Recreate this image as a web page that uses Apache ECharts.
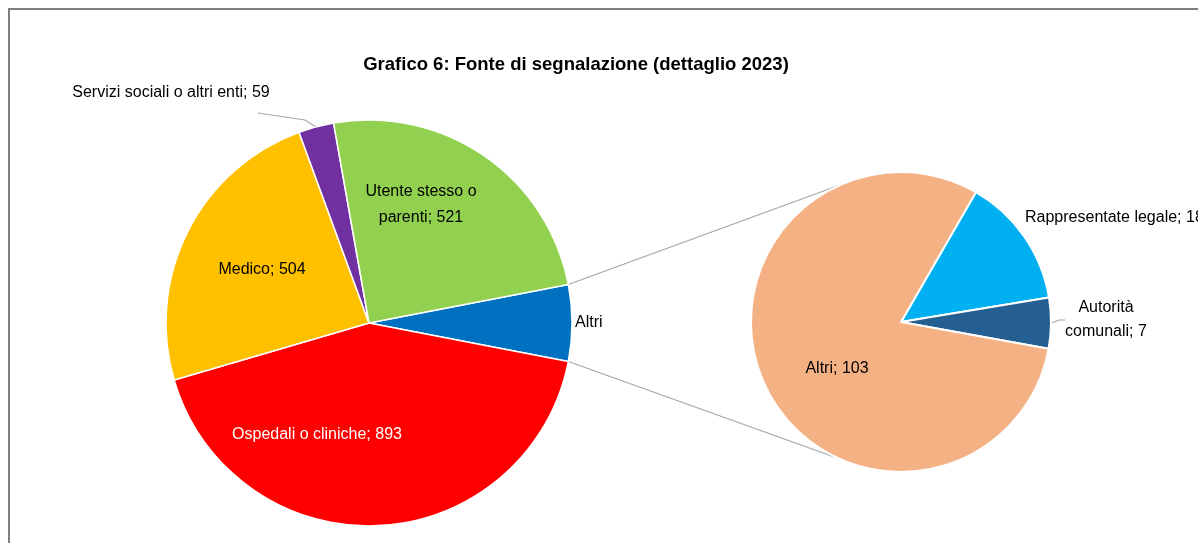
<!DOCTYPE html>
<html>
<head>
<meta charset="utf-8">
<title>Grafico 6: Fonte di segnalazione</title>
<script src="https://cdn.jsdelivr.net/npm/echarts@6/dist/echarts.min.js"></script>
<style>
html, body { margin: 0; padding: 0; background: #ffffff; }
#chart { width: 1198px; height: 543px; }
</style>
</head>
<body>
<div id="chart"></div>
<script>
// dettaglio della voce "Altri" (torta secondaria)
const detailNames = ["Rappresentate legale", "Autorità comunali", "Altri"];
const detailValues = [18, 7, 103];

// torta principale
const mainNames = ["Altri", "Ospedali o cliniche", "Medico", "Servizi sociali o altri enti", "Utente stesso o parenti"];
const mainValues = [detailValues.reduce((a, b) => a + b, 0), 893, 504, 59, 521];

const mainColors = ["#0070C0", "#FF0000", "#FFC000", "#7030A0", "#92D050"];
const detailColors = ["#00B0F0", "#255E91", "#F4B183"];

const FONT = "'Liberation Sans', Arial, sans-serif";

// geometria delle due torte
const C1 = [369, 323], R1 = 203;
const C2 = [901, 322], R2 = 150;
const mainTotal = mainValues.reduce((a, b) => a + b, 0);
const mainStart = (mainValues[0] / mainTotal) * 180; // "Altri" centrato a ore 3

// posizione delle etichette (come nel grafico Excel)
const mainLabelPos = {
  "Altri": { x: 575, y: 323, align: "left" },
  "Ospedali o cliniche": { x: 317, y: 435 },
  "Medico": { x: 262, y: 270 },
  "Servizi sociali o altri enti": { x: 171, y: 93, line: [[305, 120], [258, 113]] },
  "Utente stesso o parenti": { x: 421, y: 205 },
};
const detailLabelPos = {
  "Rappresentate legale": { x: 1025, y: 218, align: "left" },
  "Autorità comunali": { x: 1106, y: 320 },
  "Altri": { x: 837, y: 369 },
};

function labelLayoutFrom(series, map) {
  return function (params) {
    const name = series[params.dataIndex];
    const p = map[name];
    if (!p) return {};
    const out = { x: p.x, y: p.y, align: p.align || "center", verticalAlign: "middle" };
    if (p.line) {
      // parte dal bordo esterno della fetta
      const s = params.labelLinePoints ? params.labelLinePoints[0] : [p.line[0][0] + 13, p.line[0][1] + 2];
      out.labelLinePoints = [s, p.line[0], p.line[1]];
    }
    return out;
  };
}

const mainLabelText = {
  "Altri": "Altri",
  "Utente stesso o parenti": "Utente stesso o\nparenti; 521",
};
const detailLabelText = {
  "Autorità comunali": "Autorità\ncomunali; 7",
};

const p1a = mainStart * Math.PI / 180;
const p2a = 114 * Math.PI / 180;
const connectors = [1, -1].map((s) => ({
  type: "line",
  silent: true,
  z: 0,
  shape: {
    x1: C1[0] + R1 * Math.cos(p1a),
    y1: C1[1] - s * R1 * Math.sin(p1a),
    x2: C2[0] + R2 * Math.cos(p2a),
    y2: C2[1] - s * R2 * Math.sin(p2a),
  },
  style: { stroke: "#A6A6A6", lineWidth: 1.2 },
}));

let myChart = echarts.init(document.getElementById("chart"));
myChart.setOption({
  backgroundColor: "#ffffff",
  animation: false,
  title: {
    text: "Grafico 6: Fonte di segnalazione (dettaglio 2023)",
    left: 571,
    top: 50,
    textAlign: "center",
    textStyle: { fontFamily: FONT, fontSize: 18.5, fontWeight: "bold", color: "#000000" },
  },
  graphic: [
    {
      type: "rect",
      silent: true,
      shape: { x: 9, y: 9, width: 1400, height: 800 },
      style: { fill: "none", stroke: "#7F7F7F", lineWidth: 2 },
    },
  ].concat(connectors),
  series: [
    {
      type: "pie",
      center: C1,
      radius: R1,
      startAngle: mainStart,
      clockwise: true,
      avoidLabelOverlap: false,
      itemStyle: { borderColor: "#ffffff", borderWidth: 1.5 },
      data: mainNames.map((n, i) => ({
        name: n,
        value: mainValues[i],
        itemStyle: { color: mainColors[i] },
        label: {
          position: (n === "Altri" || n.indexOf("Servizi") === 0) ? "outside" : "inside",
          color: n === "Ospedali o cliniche" ? "#ffffff" : "#000000",
        },
        labelLine: { show: n.indexOf("Servizi") === 0 },
      })),
      label: {
        fontFamily: FONT,
        fontSize: 16,
        lineHeight: 26,
        align: "center",
        formatter: (p) => mainLabelText[p.name] || p.name + "; " + p.value,
      },
      labelLine: { length: 6, length2: 10, lineStyle: { color: "#A6A6A6", width: 1.2 } },
      labelLayout: labelLayoutFrom(mainNames, mainLabelPos),
    },
    {
      type: "pie",
      center: C2,
      radius: R2,
      startAngle: 60,
      clockwise: true,
      avoidLabelOverlap: false,
      itemStyle: { borderColor: "#ffffff", borderWidth: 2 },
      data: detailNames.map((n, i) => ({
        name: n,
        value: detailValues[i],
        itemStyle: { color: detailColors[i] },
        label: { position: n === "Altri" ? "inside" : "outside" },
        labelLine: { show: n === "Autorità comunali" },
      })),
      label: {
        fontFamily: FONT,
        fontSize: 16,
        lineHeight: 24,
        align: "center",
        color: "#000000",
        formatter: (p) => detailLabelText[p.name] || p.name + "; " + p.value,
      },
      labelLine: { length: 4, length2: 6, lineStyle: { color: "#A6A6A6", width: 1.2 } },
      labelLayout: labelLayoutFrom(detailNames, detailLabelPos),
    },
  ],
});
</script>
</body>
</html>
